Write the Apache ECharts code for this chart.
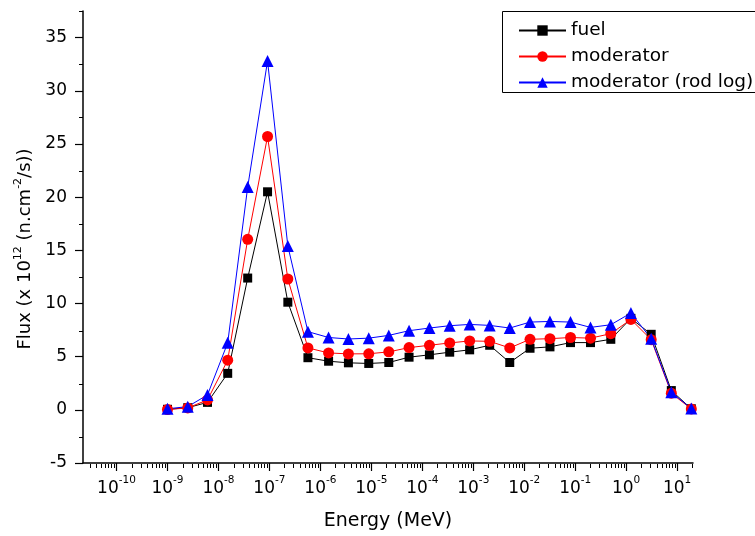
<!DOCTYPE html>
<html><head><meta charset="utf-8">
<script src="https://cdn.jsdelivr.net/npm/echarts@6/dist/echarts.min.js"></script>
<style>html,body{margin:0;padding:0;background:#fff}#c{width:755px;height:536px}</style>
</head><body><div id="c"></div>
<script>
// ---- data ----
const energy = [1e-9, 2.5e-9, 6.1e-9, 1.52e-8, 3.75e-8, 9.2e-8, 2.3e-7, 5.7e-7, 1.45e-6, 3.55e-6, 8.9e-6, 2.2e-5, 5.5e-5, 1.38e-4, 3.45e-4, 8.5e-4, 2.1e-3, 5.2e-3, 1.3e-2, 3.2e-2, 8.1e-2, 0.2, 0.5, 1.24, 3.1, 7.7, 19];
const fuel = [0.05, 0.2, 0.7, 3.43, 12.39, 20.5, 10.12, 4.9, 4.57, 4.42, 4.36, 4.45, 4.95, 5.17, 5.42, 5.64, 6.07, 4.45, 5.79, 5.92, 6.32, 6.32, 6.63, 8.6, 7.1, 1.81, 0.1];
const moderator = [0.03, 0.18, 0.93, 4.67, 16.03, 25.7, 12.3, 5.82, 5.35, 5.26, 5.27, 5.45, 5.85, 6.07, 6.29, 6.48, 6.44, 5.82, 6.63, 6.69, 6.8, 6.74, 7.16, 8.5, 6.6, 1.56, 0.08];
const rodLog = [0.1, 0.3, 1.4, 6.3, 20.95, 32.8, 15.4, 7.35, 6.8, 6.66, 6.74, 7.0, 7.44, 7.69, 7.91, 8.03, 7.94, 7.69, 8.25, 8.31, 8.25, 7.75, 8.0, 9.1, 6.69, 1.65, 0.12];
const seriesNames = ['fuel', 'moderator', 'moderator (rod log)'];
const xMajorTicks = [1e-10, 1e-9, 1e-8, 1e-7, 1e-6, 1e-5, 1e-4, 1e-3, 1e-2, 1e-1, 1e0, 1e1];
const yMajorTicks = [-5, 0, 5, 10, 15, 20, 25, 30, 35];
const yMinorTicks = [-2.5, 2.5, 7.5, 12.5, 17.5, 22.5, 27.5, 32.5, 37.5];
const xMin = 2.2e-11, xMax = 20.5, yMin = -5, yMax = 37.5;

// minor log ticks 2..9 x 10^n inside the axis range
const xMinorTicks = [];
for (let n = -11; n <= 1; n++) {
  for (let k = 2; k <= 9; k++) {
    const v = k * Math.pow(10, n);
    if (v >= xMin && v <= xMax) xMinorTicks.push(v);
  }
}

const FONT = 'DejaVu Sans';
const pairs = (ys) => energy.map((e, i) => [e, ys[i]]);

const gridBox = { left: 83, right: 62, top: 11, bottom: 72, containLabel: false };

const chart = echarts.init(document.getElementById('c'), null, { renderer: 'canvas' });
chart.setOption({
  animation: false,
  backgroundColor: '#fff',
  textStyle: { fontFamily: FONT, color: '#000' },
  grid: [Object.assign({}, gridBox), Object.assign({}, gridBox)],
  graphic: [{
    type: 'rect', z: 100, silent: true,
    shape: { x: 502.5, y: 11.5, width: 280, height: 81 },
    style: { fill: null, stroke: '#000', lineWidth: 1 }
  }],
  legend: {
    orient: 'vertical',
    left: 502, top: 11,
    padding: [10, 4, 4, 16],
    itemGap: 7,
    itemWidth: 47, itemHeight: 13,
    borderWidth: 0,
    textStyle: { fontFamily: FONT, fontSize: 18.5, color: '#000' },
    data: seriesNames
  },
  xAxis: [{
    type: 'log', logBase: 10, gridIndex: 0,
    min: xMin, max: xMax,
    name: 'Energy (MeV)', nameLocation: 'middle', nameGap: 49,
    nameTextStyle: { fontFamily: FONT, fontSize: 19, color: '#000' },
    axisLine: { onZero: false, lineStyle: { color: '#000', width: 1.5 } },
    axisTick: { show: true, inside: false, length: 8, customValues: xMajorTicks, lineStyle: { color: '#000', width: 1.2 } },
    axisLabel: {
      customValues: xMajorTicks, margin: 12,
      formatter: (v) => '{b|10}{s|' + Math.round(Math.log10(v)) + '}',
      rich: {
        b: { fontFamily: FONT, fontSize: 17, lineHeight: 22, verticalAlign: 'bottom', color: '#000' },
        s: { fontFamily: FONT, fontSize: 10.5, lineHeight: 11, verticalAlign: 'top', color: '#000' }
      }
    },
    splitLine: { show: false }, minorTick: { show: false }
  }, {
    type: 'log', logBase: 10, gridIndex: 1,
    min: xMin, max: xMax,
    axisLine: { show: false, onZero: false },
    axisTick: { show: true, inside: false, length: 4, customValues: xMinorTicks, lineStyle: { color: '#000', width: 1 } },
    axisLabel: { show: false },
    splitLine: { show: false }
  }],
  yAxis: [{
    type: 'value', gridIndex: 0,
    min: yMin, max: yMax,
    name: '{a|Flux (x 10}{s|12}{a| (n.cm}{s|-2}{a|/s))}',
    nameLocation: 'middle', nameGap: 40,
    nameTextStyle: {
      padding: [0, 24, 0, 0],
      rich: {
        a: { fontFamily: FONT, fontSize: 18, lineHeight: 22, verticalAlign: 'bottom', color: '#000' },
        s: { fontFamily: FONT, fontSize: 11, lineHeight: 11, verticalAlign: 'top', color: '#000' }
      }
    },
    axisLine: { show: true, onZero: false, lineStyle: { color: '#000', width: 1.5 } },
    axisTick: { show: true, inside: false, length: 8, customValues: yMajorTicks, lineStyle: { color: '#000', width: 1.2 } },
    axisLabel: { customValues: yMajorTicks, margin: 16, fontFamily: FONT, fontSize: 17, color: '#000' },
    splitLine: { show: false }
  }, {
    type: 'value', gridIndex: 1,
    min: yMin, max: yMax,
    axisLine: { show: false, onZero: false },
    axisTick: { show: true, inside: false, length: 4, customValues: yMinorTicks, lineStyle: { color: '#000', width: 1 } },
    axisLabel: { show: false },
    splitLine: { show: false }
  }],
  series: [{
    name: seriesNames[0], type: 'line', xAxisIndex: 0, yAxisIndex: 0,
    data: pairs(fuel),
    symbol: 'rect', symbolSize: 9,
    lineStyle: { color: '#000', width: 1 }, itemStyle: { color: '#000' }
  }, {
    name: seriesNames[1], type: 'line', xAxisIndex: 0, yAxisIndex: 0,
    data: pairs(moderator),
    symbol: 'circle', symbolSize: 11,
    lineStyle: { color: '#ff0000', width: 1 }, itemStyle: { color: '#ff0000' }
  }, {
    name: seriesNames[2], type: 'line', xAxisIndex: 0, yAxisIndex: 0,
    data: pairs(rodLog),
    symbol: 'triangle', symbolSize: 12,
    lineStyle: { color: '#0000ff', width: 1 }, itemStyle: { color: '#0000ff' }
  }]
});
</script>
</body></html>
